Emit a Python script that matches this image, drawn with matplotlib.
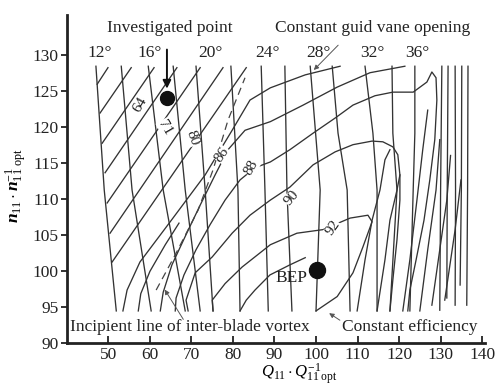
import numpy as np
import matplotlib
matplotlib.use("Agg")
import matplotlib.pyplot as plt

plt.rcParams['font.family'] = ['Liberation Serif', 'DejaVu Serif']
plt.rcParams['mathtext.fontset'] = 'custom'
plt.rcParams['mathtext.rm'] = 'Liberation Serif'
plt.rcParams['mathtext.it'] = 'Liberation Serif:italic'
plt.rcParams['mathtext.bf'] = 'Liberation Serif:bold'
plt.rcParams['mathtext.bfit'] = 'Liberation Serif:italic:bold'

# guide vane opening lines (Q11/Q11opt, n11/n11opt), top -> bottom
vane_lines = {
    12: [(47.0, 128.4), (49.0, 111.2), (51.9, 94.4)],
    14: [(53.1, 128.4), (55.7, 111.2), (60.3, 94.4)],
    16: [(59.6, 128.4), (63.2, 111.2), (68.5, 94.4)],
    18: [(65.6, 128.4), (68.5, 111.2), (72.1, 94.4)],
    20: [(71.1, 128.4), (73.3, 111.2), (75.2, 94.4)],
    22: [(79.5, 128.4), (81.2, 111.2), (81.7, 94.4)],
    24: [(86.8, 128.4), (87.7, 111.2), (88.5, 94.4)],
    26: [(92.5, 128.4), (93.0, 111.2), (94.2, 94.4)],
    28: [(98.6, 128.4), (101.0, 111.2), (100.0, 94.4)],
    30: [(103.9, 128.4), (105.3, 119.1), (107.5, 111.2), (108.2, 94.4)],
    32: [(111.8, 128.4), (113.7, 119.1), (114.7, 111.2), (114.7, 94.4)],
    34: [(118.3, 128.4), (118.5, 119.1), (119.5, 111.2), (117.8, 94.4)],
    36: [(123.8, 128.4), (123.8, 119.1), (123.4, 111.2), (122.6, 94.4)],
    38: [(130.3, 128.4), (130.0, 111.2), (129.8, 94.5)],
    40: [(131.8, 128.4), (131.6, 111.2), (131.5, 96.2)],
    42: [(133.5, 128.4), (133.6, 111.2), (133.5, 95.2)],
    44: [(135.1, 128.4), (135.0, 111.2), (134.7, 98.0)],
    46: [(136.6, 128.4), (136.5, 111.2), (136.3, 95.2)],
}

# constant efficiency lines
eff_lines = [
    [(47.3, 125.9), (49.9, 128.2)],
    [(48.0, 121.9), (55.5, 128.2)],
    [(48.5, 117.7), (61.0, 128.2)],
    [(49.2, 113.6), (66.5, 128.2)],
    [(49.7, 109.4), (72.1, 128.2)],
    [(50.4, 105.2), (77.6, 128.2)],
    [(50.9, 101.2), (83.2, 128.2)],
    [(53.5, 94.4), (54.5, 97.3), (57.6, 101.2), (64.9, 106.8), (73.3, 113.3),
     (79.8, 119.5), (84.1, 123.7), (89.0, 125.4), (97.4, 127.2), (105.8, 128.4)],
    [(57.2, 94.4), (57.8, 96.8), (60.0, 99.9), (63.7, 103.6), (67.0, 106.6)],
    [(62.5, 94.4), (63.2, 97.0), (65.3, 100.8), (68.7, 105.0), (72.1, 109.1),
     (75.7, 113.3), (78.8, 116.8), (82.9, 119.5), (89.0, 120.7), (96.9, 123.0),
     (105.1, 125.5), (113.0, 127.5), (121.4, 128.4)],
    [(66.1, 94.4), (66.3, 96.2), (68.2, 99.4), (71.1, 102.9), (74.5, 106.4),
     (78.1, 109.8), (81.7, 112.6), (85.3, 114.3), (89.0, 115.1), (93.7, 116.8),
     (99.3, 119.1), (104.6, 121.2), (108.9, 123.0), (114.2, 124.3), (118.5, 124.8),
     (123.4, 124.8), (126.7, 126.2), (127.9, 127.6), (128.9, 126.8), (129.1, 123.7),
     (128.6, 118.2), (127.4, 112.6), (126.0, 107.0), (124.1, 101.5), (122.6, 97.3),
     (122.1, 94.4)],
    [(69.2, 94.4), (68.7, 95.9), (70.9, 99.7), (75.0, 101.9), (79.8, 105.2),
     (84.1, 107.7), (89.0, 109.8), (93.7, 111.6), (99.3, 114.7), (104.6, 116.5),
     (108.9, 117.5), (113.5, 118.0), (116.1, 117.9), (118.5, 117.2), (119.7, 116.1),
     (120.2, 113.3), (120.2, 109.8), (119.5, 104.3), (118.5, 98.7), (117.8, 94.4)],
    [(75.2, 94.4), (75.0, 95.9), (78.1, 98.2), (82.2, 100.5), (89.0, 103.6),
     (95.4, 105.2), (101.7, 105.7), (108.2, 107.3), (112.5, 107.7), (113.5, 106.8),
     (111.3, 103.3), (108.9, 99.7), (105.1, 96.4), (100.5, 94.6), (100.0, 94.4)],
    [(81.7, 94.4), (83.2, 95.9), (85.3, 97.3), (88.9, 99.4), (93.7, 100.8),
     (97.4, 101.8)],
    [(109.9, 94.4), (111.8, 101.5), (113.5, 107.0), (115.4, 111.2), (116.6, 115.4),
     (117.8, 116.8)],
    [(114.7, 94.4), (116.6, 101.5), (117.8, 107.0), (119.5, 111.2), (120.2, 113.3)],
    [(120.9, 94.4), (122.6, 101.5), (124.3, 109.8), (125.7, 116.8), (126.9, 122.3)],
    [(125.0, 94.4), (126.9, 102.9), (128.9, 111.2), (129.8, 118.2)],
    [(127.9, 95.2), (129.8, 102.9), (131.5, 109.8), (132.4, 116.0)],
    [(131.0, 95.9), (133.5, 105.7), (134.9, 112.6)],
]

# incipient line of inter-blade vortex (dashed)
vortex_q = [61.5, 66.1, 71.6, 75.2, 78.8, 82.9]
vortex_n = [97.3, 102.2, 108.4, 114.0, 120.9, 126.8]

angle_labels = ['12°', '16°', '20°', '24°', '28°', '32°', '36°']
angle_label_q = [48.0, 60.0, 74.5, 88.4, 100.5, 113.5, 124.5]

eff_labels = ['64', '71', '80', '86', '88', '90', '92']
eff_label_q = [57.6, 63.7, 70.2, 77.4, 84.4, 94.2, 104.1]
eff_label_n = [123.0, 119.9, 118.4, 116.1, 114.3, 110.1, 105.9]
eff_label_rot = [60, -60, -70, 55, 60, 50, 55]

investigated = (64.1, 124.0)
bep = (100.2, 100.1)

line_col = '#333333'
text_col = '#222222'

fig = plt.figure(figsize=(4.99, 3.88), dpi=100)
ax = fig.add_axes([0.134, 0.117, 0.838, 0.844])

for pts in vane_lines.values():
    pts = np.array(pts)
    ax.plot(pts[:, 0], pts[:, 1], color=line_col, lw=0.95)
for pts in eff_lines:
    pts = np.array(pts)
    ax.plot(pts[:, 0], pts[:, 1], color=line_col, lw=0.95)

ax.plot(vortex_q, vortex_n, color='#444444', lw=0.9, ls=(0, (6, 4)))

for lab, q, n, r in zip(eff_labels, eff_label_q, eff_label_n, eff_label_rot):
    ax.text(q, n, lab, fontsize=11, rotation=r, ha='center', va='center', color=text_col,
            bbox=dict(facecolor='white', edgecolor='none', pad=0.2))

for lab, q in zip(angle_labels, angle_label_q):
    ax.text(q, 130.3, lab, fontsize=12.5, ha='center', va='center', color=text_col)

ax.plot(*investigated, 'o', color='#111111', ms=10)
ax.plot(*bep, 'o', color='#111111', ms=11.5)

ax.text(64.9, 133.7, 'Investigated point', fontsize=12.5, ha='center', va='center', color=text_col)
ax.text(113.7, 133.7, 'Constant guid vane opening', fontsize=12.5, ha='center', va='center', color=text_col)
ax.text(94.2, 99.0, 'BEP', fontsize=12.5, ha='center', va='center', color=text_col)
ax.text(40.8, 92.2, 'Incipient line of inter-blade vortex', fontsize=12.5, ha='left', va='center', color=text_col)
ax.text(106.3, 92.2, 'Constant efficiency', fontsize=12.5, ha='left', va='center', color=text_col)

ax.annotate('', xy=(64.1, 124.9), xytext=(64.1, 131.1),
            arrowprops=dict(arrowstyle='-|>', color='#111111', lw=1.4, mutation_scale=12))
ax.annotate('', xy=(99.0, 127.6), xytext=(105.8, 131.6),
            arrowprops=dict(arrowstyle='-|>', color='#555555', lw=0.7, mutation_scale=7))
ax.annotate('', xy=(63.2, 97.7), xytext=(68.4, 92.9),
            arrowprops=dict(arrowstyle='-|>', color='#555555', lw=0.7, mutation_scale=7))
ax.annotate('', xy=(102.6, 94.3), xytext=(106.3, 92.9),
            arrowprops=dict(arrowstyle='-|>', color='#555555', lw=0.7, mutation_scale=7))

ax.set_xlim(40, 140.7)
ax.set_ylim(90, 135.5)
ax.set_xticks(np.arange(50, 141, 10))
ax.set_yticks(np.arange(90, 131, 5))
ax.tick_params(axis='x', direction='in', length=5, width=1.3, labelsize=12.5, colors=text_col, pad=3)
ax.tick_params(axis='y', direction='out', length=4, width=1.3, labelsize=12.5, colors=text_col, pad=2)
for s in ['top', 'right']:
    ax.spines[s].set_visible(False)
for s in ['left', 'bottom']:
    ax.spines[s].set_linewidth(2.0)
    ax.spines[s].set_color('#222222')

ax.set_xlabel(r'$Q_{11}\cdot Q_{11\ \mathrm{opt}}^{-1}$', fontsize=12)
ax.xaxis.set_label_coords(0.557, -0.058)
ax.set_ylabel(r'$\mathbfit{n}_{11}\cdot \mathbfit{n}_{11\ \mathrm{opt}}^{-1}$', fontsize=12.5)
ax.yaxis.set_label_coords(-0.09, 0.48)

fig.savefig('out.png', dpi=100)
